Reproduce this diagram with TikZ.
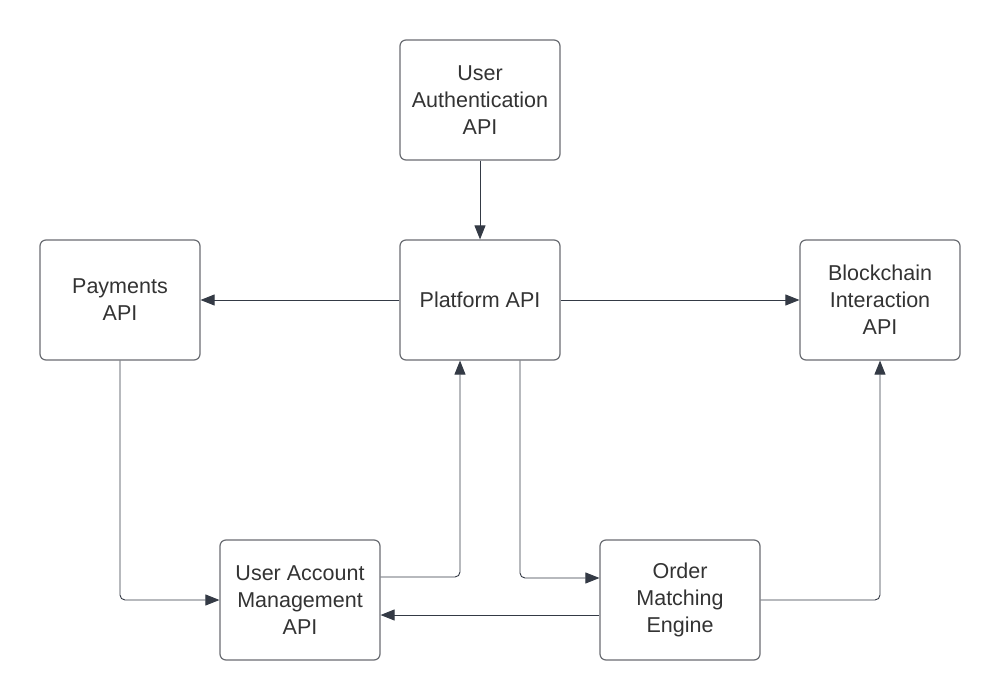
\documentclass[tikz,border=0pt]{standalone}
\usepackage{fontspec}
\setmainfont{Liberation Sans}
\usetikzlibrary{arrows.meta}
\definecolor{boxline}{HTML}{6A6D72}
\definecolor{conn}{HTML}{343A45}
\definecolor{txt}{HTML}{333333}
\begin{document}
\begin{tikzpicture}[x=1pt,y=-1pt,
  apibox/.style={draw=boxline,line width=1.2pt,rounded corners=6pt,minimum width=160pt,minimum height=120pt,
    align=center,text=txt,font=\fontsize{21.5}{27}\selectfont,inner sep=0pt,fill=white},
  conline/.style={draw=conn,line width=0.9pt,rounded corners=5pt,-{Triangle[length=14pt,width=11pt]}}]
\useasboundingbox (0,0) rectangle (1000,700);
\fill[white] (0,0) rectangle (1000,700);
\node[apibox] (auth) at (480,100) {User\\Authentication\\API};
\node[apibox] (plat) at (480,300) {Platform API};
\node[apibox] (pay) at (120,300) {Payments\\API};
\node[apibox] (bc) at (880,300) {Blockchain\\Interaction\\API};
\node[apibox] (uam) at (300,600) {User Account\\Management\\API};
\node[apibox] (ome) at (680,600) {Order\\Matching\\Engine};
\draw[conline] (auth.south) -- (plat.north);
\draw[conline] (plat.west) -- (pay.east);
\draw[conline] (plat.east) -- (bc.west);
\draw[conline] (pay.south) |- (uam.west);
\coordinate (uamr) at ([yshift=23pt]uam.east);
\coordinate (platb1) at ([xshift=-20pt]plat.south);
\draw[conline] (uamr) -| (platb1);
\coordinate (platb2) at ([xshift=40pt]plat.south);
\coordinate (omel) at ([yshift=22pt]ome.west);
\draw[conline] (platb2) |- (omel);
\coordinate (omel2) at ([yshift=-15pt]ome.west);
\coordinate (uamr2) at ([yshift=-15pt]uam.east);
\draw[conline] (omel2) -- (uamr2);
\draw[conline] (ome.east) -| (bc.south);
\end{tikzpicture}
\end{document}
